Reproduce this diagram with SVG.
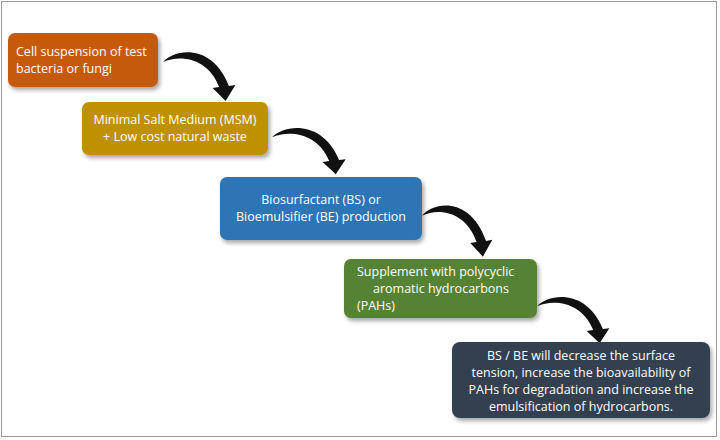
<svg xmlns="http://www.w3.org/2000/svg" width="720" height="440" viewBox="0 0 720 440">
<style>
.t{font-family:"Open Sans","Liberation Sans",sans-serif;font-size:12.5px;fill:#fff}
.c{text-anchor:middle}
.b{filter:url(#sh)}
</style>
<defs>
<filter id="sh" x="-10%" y="-10%" width="130%" height="140%"><feDropShadow dx="2" dy="3" stdDeviation="2" flood-color="#000" flood-opacity="0.35"/></filter>
<path id="arr" d="M0,14 C12,0 46,-4 61,38 L67,37 L58,53 L46,40 L52,39 C42,10 16,6 0,14 Z" fill="#111"/>
</defs>
<rect x="1.5" y="1.5" width="715" height="435" fill="#fff" stroke="#9a9a9a"/>
<g id="connectors">
<use href="#arr" transform="translate(163,48) scale(1.08,1)"/>
<use href="#arr" transform="translate(272,124) scale(1.1,0.95)"/>
<use href="#arr" transform="translate(422,201) scale(1.05,1.05)"/>
<use href="#arr" transform="translate(537,293) scale(1.08,0.95)"/>
</g>
<g id="n1"><rect class="b" x="8" y="33" width="150" height="54" rx="7" fill="#C55A11"/>
<text class="t" x="16" y="56">Cell suspension of test</text><text class="t" x="16" y="73">bacteria or fungi</text></g>
<g id="n2"><rect class="b" x="82" y="102" width="186" height="53" rx="7" fill="#BF9000"/>
<text class="t c" x="175" y="124">Minimal Salt Medium (MSM)</text><text class="t c" x="175" y="141">+ Low cost natural waste</text></g>
<g id="n3"><rect class="b" x="220" y="177" width="202" height="63" rx="7" fill="#2E75B6"/>
<text class="t c" x="321" y="204">Biosurfactant (BS) or</text><text class="t c" x="321" y="221">Bioemulsifier (BE) production</text></g>
<g id="n4"><rect class="b" x="344" y="259" width="193" height="59" rx="7" fill="#548235"/>
<text class="t" x="357" y="276">Supplement with polycyclic</text><text class="t" x="373" y="293">aromatic hydrocarbons</text><text class="t" x="357" y="310">(PAHs)</text></g>
<g id="n5"><rect class="b" x="452" y="342" width="258" height="76" rx="8" fill="#333F50"/>
<text class="t c" x="581" y="360">BS / BE will decrease the surface</text><text class="t c" x="581" y="377">tension, increase the bioavailability of</text><text class="t c" x="581" y="394">PAHs for degradation and increase the</text><text class="t c" x="581" y="411">emulsification of hydrocarbons.</text></g>
</svg>
